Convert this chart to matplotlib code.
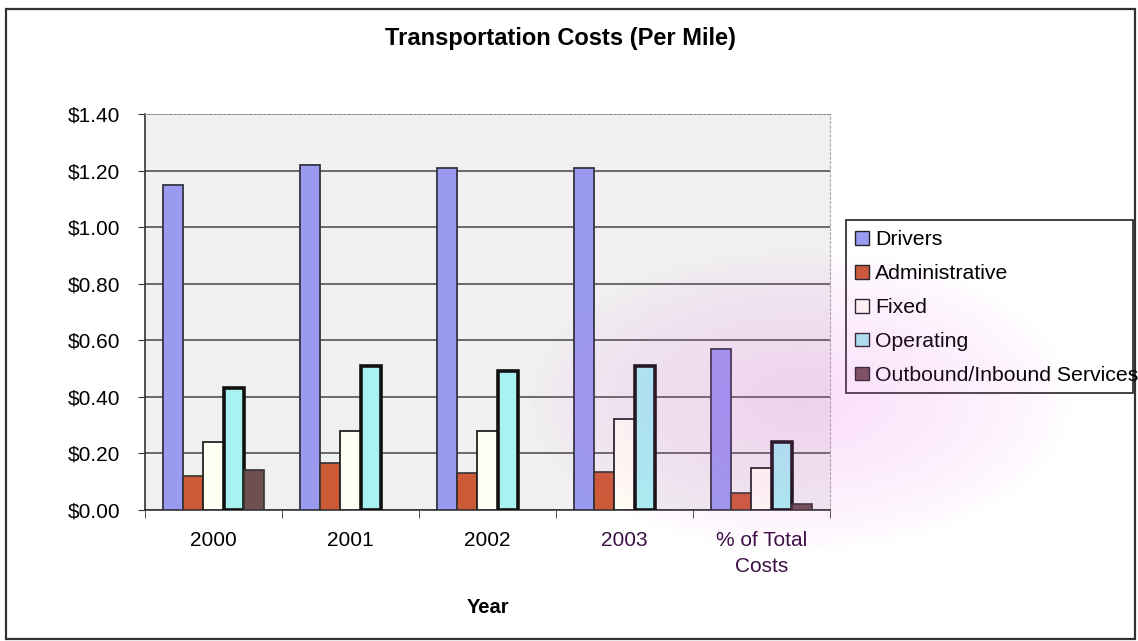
import numpy as np
import matplotlib.pyplot as plt
from matplotlib.patches import Rectangle
from matplotlib.ticker import FuncFormatter

plt.rcParams['font.family'] = ['Liberation Sans', 'DejaVu Sans']

# Cost per mile by year, plus share of total costs
categories = ["2000", "2001", "2002", "2003", "% of Total\nCosts"]
series_names = ["Drivers", "Administrative", "Fixed", "Operating",
                "Outbound/Inbound Services"]
drivers = [1.15, 1.22, 1.21, 1.21, 0.57]
administrative = [0.12, 0.165, 0.13, 0.135, 0.06]
fixed = [0.24, 0.28, 0.28, 0.32, 0.15]
operating = [0.43, 0.51, 0.49, 0.51, 0.24]
outbound = [0.14, 0.0, 0.0, 0.0, 0.02]
y_ticks = [0.0, 0.2, 0.4, 0.6, 0.8, 1.0, 1.2, 1.4]

series = [drivers, administrative, fixed, operating, outbound]
colors = ["#9a9af0", "#cc5a36", "#fffff4", "#a8f2f2", "#6e5050"]
edges = ["#333344", "#333333", "#222222", "#111111", "#333333"]
lws = [1.3, 1.2, 1.3, 2.6, 1.2]

fig = plt.figure(figsize=(11.38, 6.41), dpi=100)
fig.patch.set_facecolor("white")

# outer chart border
fig.add_artist(Rectangle((6 / 1138, 2 / 641), 1129 / 1138, 630 / 641,
                         transform=fig.transFigure, fill=False,
                         edgecolor="#333333", linewidth=1.6))

ax = fig.add_axes([145 / 1138, 1 - 510 / 641, 685 / 1138, 396 / 641])
ax.set_facecolor("#f0f0f0")

x = np.arange(len(categories))
w = 0.146
for i, (vals, name) in enumerate(zip(series, series_names)):
    offs = x + (i - 2) * w
    bars = ax.bar(offs, vals, width=w, color=colors[i], edgecolor=edges[i],
                  linewidth=lws[i], label=name, zorder=3)
    for b, v in zip(bars, vals):
        if v == 0:
            b.set_linewidth(0)

ax.set_xlim(-0.5, len(categories) - 0.5)
ax.set_ylim(0, 1.4)
ax.set_yticks(y_ticks)
ax.yaxis.set_major_formatter(FuncFormatter(lambda v, p: f"${v:.2f}"))
ax.yaxis.grid(True, color="#444444", linewidth=1.1, zorder=1)
ax.set_axisbelow(True)

ax.set_xticks(x)
ax.set_xticklabels(categories, fontsize=15, linespacing=1.45)
ax.set_xticks(np.arange(len(categories) + 1) - 0.5, minor=True)
ax.tick_params(axis="x", which="major", length=0, pad=15)
ax.tick_params(axis="x", which="minor", length=6, direction="out", color="#333333")
ax.tick_params(axis="y", length=5, direction="out", labelsize=15, pad=13, color="#333333")
for lbl in ax.get_xticklabels()[3:]:
    lbl.set_color("#3c0f45")

for s in ["top", "right"]:
    ax.spines[s].set_color("#aaaaaa")
    ax.spines[s].set_linestyle((0, (2, 2)))
    ax.spines[s].set_linewidth(0.8)
for s in ["left", "bottom"]:
    ax.spines[s].set_color("#333333")
    ax.spines[s].set_linewidth(1.2)

ax.set_xlabel("Year", fontsize=14.5, fontweight="bold", labelpad=16)
fig.text(560 / 1138, 1 - 38 / 641, "Transportation Costs (Per Mile)",
         fontsize=17, fontweight="bold", ha="center", va="center")

# legend entries without their own frame; box drawn separately
leg = fig.legend(loc="upper left", bbox_to_anchor=(849 / 1138, 1 - 224 / 641),
                 frameon=False, fontsize=15.3,
                 handlelength=0.62, handleheight=0.62, handletextpad=0.3,
                 labelspacing=0.7, borderpad=0.3, borderaxespad=0)
for h in leg.legend_handles:
    h.set_linewidth(1.0)
    h.set_edgecolor("#222222")
fig.add_artist(Rectangle((846 / 1138, 1 - 393 / 641), 287 / 1138, 173 / 641,
                         transform=fig.transFigure, fill=False,
                         edgecolor="#222222", linewidth=1.2))

# soft pink tint over the lower right of the chart
ov = fig.add_axes([0, 0, 1, 1], zorder=20)
ov.axis("off")
H, W = 641, 1138
yy, xx = np.mgrid[0:H, 0:W]
d = np.sqrt(((xx - 800) / 270.0) ** 2 + ((yy - 400) / 150.0) ** 2)
alpha = np.clip(1 - d, 0, 1) ** 0.7 * 0.2
rgba = np.zeros((H, W, 4))
rgba[..., 0] = 0.92
rgba[..., 1] = 0.35
rgba[..., 2] = 0.90
rgba[..., 3] = alpha
ov.imshow(rgba, extent=[0, 1, 0, 1], aspect="auto", origin="upper")
ov.set_xlim(0, 1)
ov.set_ylim(0, 1)

fig.savefig("out.png", dpi=100)
